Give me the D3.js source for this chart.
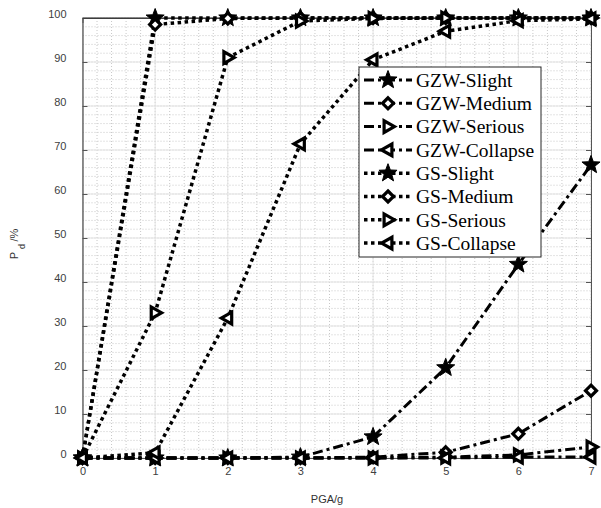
<!DOCTYPE html>
<html>
<head>
<meta charset="utf-8">
<script src="https://cdn.jsdelivr.net/npm/d3@7"></script>
<style>
  body { margin: 0; background: #fff; }
  svg { display: block; }
</style>
</head>
<body>
<script>
(function () {
  'use strict'

  // PGA levels (x axis)
  var pga = [0, 1, 2, 3, 4, 5, 6, 7]

  // damage probability (%)
  var gzwSlight = [0, 0, 0, 0.2, 4.8, 20.5, 44, 66.6]
  var gzwMedium = [0, 0, 0, 0, 0.2, 1.3, 5.5, 15.3]
  var gzwSerious = [0, 0, 0, 0, 0, 0.2, 0.7, 2.5]
  var gzwCollapse = [0, 0, 0, 0, 0, 0, 0.2, 0.2]
  var gsSlight = [0, 100, 100, 100, 100, 100, 100, 100]
  var gsMedium = [0, 98.5, 99.9, 100, 100, 100, 100, 100]
  var gsSerious = [0, 33, 91, 99.3, 99.9, 100, 100, 100]
  var gsCollapse = [0, 1.2, 31.8, 71.4, 90.5, 97, 99.4, 99.8]

  var names = ['GZW-Slight', 'GZW-Medium', 'GZW-Serious', 'GZW-Collapse',
    'GS-Slight', 'GS-Medium', 'GS-Serious', 'GS-Collapse']
  var values = [gzwSlight, gzwMedium, gzwSerious, gzwCollapse,
    gsSlight, gsMedium, gsSerious, gsCollapse]
  var markers = ['star', 'diamond', 'right', 'left', 'star', 'diamond', 'right', 'left']

  var yTicks = [0, 10, 20, 30, 40, 50, 60, 70, 80, 90, 100]

  var series = names.map(function (n, i) {
    return { name: n, marker: markers[i], gzw: i < 4, values: values[i] }
  })

  var W = 601
  var H = 508
  var left = 82.5
  var right = 591
  var top = 18
  var bottom = 458

  var x = d3.scaleLinear().domain([0, 7]).range([left, right])
  var y = d3.scaleLinear().domain([0, 100]).range([bottom, top])

  var svg = d3.select('body').append('svg')
    .attr('width', W)
    .attr('height', H)

  // grid: minor dotted, then major solid
  var g = svg.append('g')
  g.selectAll('.vminor')
    .data(d3.range(0, 7.01, 0.2))
    .enter().append('line')
      .attr('x1', function (d) { return x(d) })
      .attr('x2', function (d) { return x(d) })
      .attr('y1', top).attr('y2', bottom)
      .attr('stroke', '#c8c8c8')
      .attr('stroke-dasharray', '1,2')
  g.selectAll('.hminor')
    .data(d3.range(0, 100.1, 2))
    .enter().append('line')
      .attr('y1', function (d) { return y(d) })
      .attr('y2', function (d) { return y(d) })
      .attr('x1', left).attr('x2', right)
      .attr('stroke', '#c8c8c8')
      .attr('stroke-dasharray', '1,2')
  g.selectAll('.vmajor')
    .data(pga)
    .enter().append('line')
      .attr('x1', function (d) { return x(d) })
      .attr('x2', function (d) { return x(d) })
      .attr('y1', top).attr('y2', bottom)
      .attr('stroke', '#e3e3e3')
  g.selectAll('.hmajor')
    .data(yTicks)
    .enter().append('line')
      .attr('y1', function (d) { return y(d) })
      .attr('y2', function (d) { return y(d) })
      .attr('x1', left).attr('x2', right)
      .attr('stroke', '#e3e3e3')

  // axes (ticks point inward)
  var font = 'Liberation Sans, Arial, sans-serif'
  var yAxis = svg.append('g')
    .attr('transform', 'translate(' + left + ',0)')
    .call(d3.axisLeft(y).tickValues(yTicks).tickSizeInner(-5).tickSizeOuter(0).tickPadding(16))
  yAxis.selectAll('text').attr('y', -4.5)
  svg.append('g')
    .attr('transform', 'translate(0,' + bottom + ')')
    .call(d3.axisBottom(x).tickValues(pga).tickFormat(d3.format('d')).tickSizeInner(-5).tickSizeOuter(0).tickPadding(9))
  svg.append('g')
    .attr('transform', 'translate(' + right + ',0)')
    .call(d3.axisRight(y).tickValues(yTicks).tickSizeInner(-5).tickSizeOuter(0).tickFormat(''))
  svg.append('g')
    .attr('transform', 'translate(0,' + top + ')')
    .call(d3.axisTop(x).tickValues(pga).tickSizeInner(-5).tickSizeOuter(0).tickFormat(''))

  svg.selectAll('.domain').attr('stroke', '#555')
  svg.selectAll('.tick line').attr('stroke', '#555')
  yAxis.select('.domain').attr('stroke', '#262626')
  svg.selectAll('.tick text')
    .attr('font-family', font)
    .attr('font-size', 11)
    .attr('fill', '#404040')
  svg.append('line')
    .attr('x1', left).attr('x2', right)
    .attr('y1', top).attr('y2', top)
    .attr('stroke', '#262626')

  // axis titles
  svg.append('text')
    .attr('x', 327).attr('y', 503)
    .attr('text-anchor', 'middle')
    .attr('font-family', font)
    .attr('font-size', 11)
    .attr('fill', '#333')
    .text('PGA/g')
  var yl = svg.append('text')
    .attr('transform', 'translate(18,244) rotate(-90)')
    .attr('text-anchor', 'middle')
    .attr('font-family', font)
    .attr('font-size', 11)
    .attr('fill', '#333')
  yl.append('tspan').text('P ')
  yl.append('tspan').attr('dy', 7).attr('font-size', 9).text('d ')
  yl.append('tspan').attr('dy', -7).text('/%')

  // marker shapes
  function markerPath (type) {
    var r, a, pts, i
    if (type === 'star') {
      r = 9.5
      pts = []
      for (i = 0; i < 10; i++) {
        a = -Math.PI / 2 + i * Math.PI / 5
        var rr = i % 2 ? r * 0.42 : r
        pts.push([rr * Math.cos(a), rr * Math.sin(a)])
      }
      return 'M' + pts.join('L') + 'Z'
    }
    if (type === 'diamond') {
      r = 5.5
      return 'M0,' + -r + 'L' + r + ',0L0,' + r + 'L' + -r + ',0Z'
    }
    r = 6.5
    var s = type === 'right' ? 1 : -1
    return 'M' + s * r + ',0L' + -s * r * 0.6 + ',' + -r * 0.9 + 'L' + -s * r * 0.6 + ',' + r * 0.9 + 'Z'
  }

  function styleLine (sel, d) {
    sel.attr('fill', 'none')
      .attr('stroke', '#000')
      .attr('stroke-width', d.gzw ? 3 : 3.5)
      .attr('stroke-dasharray', d.gzw ? '10,4,3,4' : '3.5,3.5')
  }

  function styleMarker (sel, d) {
    sel.attr('d', markerPath(d.marker))
      .attr('fill', d.marker === 'star' ? '#000' : '#fff')
      .attr('stroke', '#000')
      .attr('stroke-width', d.marker === 'star' ? 1 : 3.2)
      .attr('stroke-linejoin', 'miter')
  }

  var line = d3.line()
    .x(function (d, i) { return x(pga[i]) })
    .y(function (d) { return y(d) })

  series.forEach(function (s) {
    var sg = svg.append('g')
    sg.append('path')
      .attr('d', line(s.values))
      .call(styleLine, s)
    sg.selectAll('path.m')
      .data(s.values)
      .enter().append('path')
        .attr('class', 'm')
        .attr('transform', function (d, i) {
          return 'translate(' + x(pga[i]) + ',' + y(d) + ')'
        })
        .call(styleMarker, s)
  })

  // legend
  var lx = 359
  var ly = 67
  var leg = svg.append('g')
  leg.append('rect')
    .attr('x', lx).attr('y', ly)
    .attr('width', 182).attr('height', 190)
    .attr('fill', '#fff')
    .attr('stroke', '#262626')
  series.forEach(function (s, i) {
    var cy = 80 + i * 23.3
    leg.append('line')
      .attr('x1', 364).attr('x2', 412)
      .attr('y1', cy).attr('y2', cy)
      .call(styleLine, s)
    leg.append('path')
      .attr('transform', 'translate(388,' + cy + ')')
      .call(styleMarker, s)
    leg.append('text')
      .attr('x', 416).attr('y', cy)
      .attr('dy', '0.35em')
      .attr('font-family', 'Liberation Serif, Times New Roman, serif')
      .attr('font-size', 19.5)
      .attr('fill', '#000')
      .text(s.name)
  })
}())
</script>
</body>
</html>
